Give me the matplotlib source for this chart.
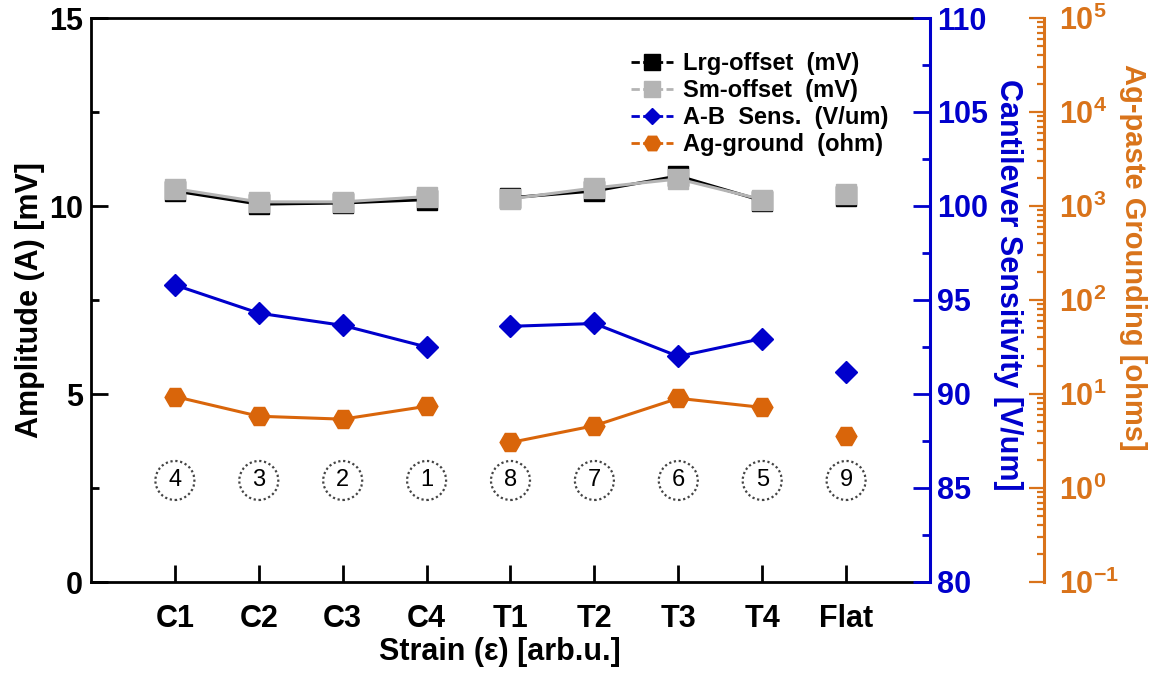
import matplotlib
matplotlib.use("Agg")
import matplotlib.pyplot as plt
from matplotlib.lines import Line2D
import numpy as np

plt.rcParams['font.family'] = ['Liberation Sans', 'DejaVu Sans']
plt.rcParams['font.weight'] = 'bold'
plt.rcParams['axes.labelweight'] = 'bold'
plt.rcParams['mathtext.fontset'] = 'custom'
plt.rcParams['mathtext.rm'] = 'Liberation Sans:bold'
plt.rcParams['mathtext.bf'] = 'Liberation Sans:bold'

# strain states along x, and the sample index circled under each one
strains = ['C1', 'C2', 'C3', 'C4', 'T1', 'T2', 'T3', 'T4', 'Flat']
sample_ids = ['4', '3', '2', '1', '8', '7', '6', '5', '9']

lrg_offset = [10.40, 10.05, 10.08, 10.17, 10.22, 10.40, 10.80, 10.14, 10.27]   # mV
sm_offset = [10.46, 10.11, 10.11, 10.25, 10.19, 10.48, 10.72, 10.17, 10.33]    # mV
ab_sens = [95.8, 94.3, 93.65, 92.5, 93.6, 93.75, 92.0, 92.95, 91.15]           # V/um
ag_ground = [9.4, 5.8, 5.4, 7.4, 3.05, 4.6, 9.0, 7.2, 3.6]                     # ohm

BLUE = '#0000CC'
ORANGE = '#D9650A'
ORANGE_AX = '#D9731A'
GRAY = '#B4B4B4'

# the three groups: compressive, tensile, flat
groups = [slice(0, 4), slice(4, 8), slice(8, 9)]
x = np.arange(1, len(strains) + 1)
lrg_offset = np.array(lrg_offset)
sm_offset = np.array(sm_offset)
ab_sens = np.array(ab_sens)
ag_ground = np.array(ag_ground)

fig = plt.figure(figsize=(11.51, 6.73), dpi=100)
ax = fig.add_axes([91 / 1151, 91 / 673, 839 / 1151, 564 / 673])
ax2 = ax.twinx()
ax3 = ax.twinx()
ax3.spines['right'].set_position(('axes', 1.136))

for g in groups:
    ax.plot(x[g], lrg_offset[g], color='black', lw=2.2, marker='s', ms=14,
            mec='black', zorder=3)
    ax.plot(x[g], sm_offset[g], color=GRAY, lw=2.2, marker='s', ms=14,
            mec=GRAY, zorder=4)
    ax2.plot(x[g], ab_sens[g], color=BLUE, lw=2.2, marker='D', ms=11,
             mec=BLUE, zorder=3)
    ax3.plot(x[g], ag_ground[g], color=ORANGE, lw=2.2, marker='H', ms=15,
             mec=ORANGE, zorder=3)

# circled sample numbers
for xi, s in zip(x, sample_ids):
    ax.text(xi, 2.7, s, ha='center', va='center', fontsize=17,
            fontweight='medium', color='black',
            bbox=dict(boxstyle='circle,pad=0.36', fc='white', ec='#444444',
                      ls=(0, (1, 1.2)), lw=1.6))

# main axis
ax.set_xlim(0, 10)
ax.set_ylim(0, 15)
ax.set_xticks(x)
ax.set_xticklabels(strains)
ax.set_yticks([0, 5, 10, 15])
ax.set_yticks([2.5, 7.5, 12.5], minor=True)
ax.tick_params(axis='both', which='both', direction='in', labelsize=22,
               width=2, right=False, top=False)
ax.tick_params(axis='both', which='major', length=12)
ax.tick_params(axis='y', which='minor', length=6)
ax.tick_params(axis='x', which='major', pad=16)
ax.tick_params(axis='y', which='major', pad=6)
for side in ['left', 'top', 'bottom']:
    ax.spines[side].set_linewidth(2)
ax.spines['right'].set_visible(False)

ax.set_xlabel('Strain (\u03b5) [arb.u.]', fontsize=22)
ax.xaxis.set_label_coords(0.4875, -0.124)
ax.xaxis.label.set_va('center')
ax.set_ylabel('Amplitude (A) [mV]', fontsize=22)
ax.yaxis.set_label_coords(-0.073, 0.5)
ax.yaxis.label.set_va('center')

# sensitivity axis
ax2.set_ylim(80, 110)
ax2.set_yticks(np.arange(80, 111, 5))
ax2.set_yticks(np.arange(82.5, 110, 5), minor=True)
for side in ['left', 'top', 'bottom']:
    ax2.spines[side].set_visible(False)
ax2.spines['right'].set_color(BLUE)
ax2.spines['right'].set_linewidth(2.2)
ax2.tick_params(axis='y', which='both', direction='in', colors=BLUE,
                labelsize=22, width=2, pad=5)
ax2.tick_params(axis='y', which='major', length=12)
ax2.tick_params(axis='y', which='minor', length=6)
ax2.set_ylabel('Cantilever Sensitivity [V/um]', fontsize=22, color=BLUE,
               rotation=270)
ax2.yaxis.set_label_coords(1.093, 0.527)
ax2.yaxis.label.set_va('center')

# grounding resistance axis (log)
ax3.set_yscale('log')
ax3.set_ylim(0.1, 1e5)
decades = [-1, 0, 1, 2, 3, 4, 5]
ax3.set_yticks([10.0 ** d for d in decades])
ax3.set_yticklabels(['$10^{%d}$' % d for d in decades])
for side in ['left', 'top', 'bottom']:
    ax3.spines[side].set_visible(False)
ax3.spines['right'].set_color(ORANGE_AX)
ax3.spines['right'].set_linewidth(2.2)
ax3.tick_params(axis='y', which='both', direction='in', colors=ORANGE_AX,
                labelsize=22, width=1.6, pad=11)
ax3.tick_params(axis='y', which='major', length=11)
ax3.tick_params(axis='y', which='minor', length=5)
ax3.set_ylabel('Ag-paste Grounding [ohms]', fontsize=21, color=ORANGE_AX,
               rotation=270)
ax3.yaxis.set_label_coords(1.242, 0.575)
ax3.yaxis.label.set_va('center')

handles = [
    Line2D([], [], color='black', lw=2, ls=(0, (3, 1.2)), marker='s', ms=11),
    Line2D([], [], color=GRAY, lw=2, ls=(0, (3, 1.2)), marker='s', ms=11),
    Line2D([], [], color=BLUE, lw=2, ls=(0, (3, 1.2)), marker='D', ms=8),
    Line2D([], [], color=ORANGE, lw=2, ls=(0, (3, 1.2)), marker='H', ms=12),
]
labels = ['Lrg-offset  (mV)', 'Sm-offset  (mV)', 'A-B  Sens.  (V/um)',
          'Ag-ground  (ohm)']
ax3.legend(handles, labels, loc='upper right', bbox_to_anchor=(0.95, 0.94),
           frameon=False, fontsize=17, handlelength=1.8, handletextpad=0.4,
           labelspacing=0.17, borderpad=0, borderaxespad=0)

fig.savefig('out.png', dpi=100)
